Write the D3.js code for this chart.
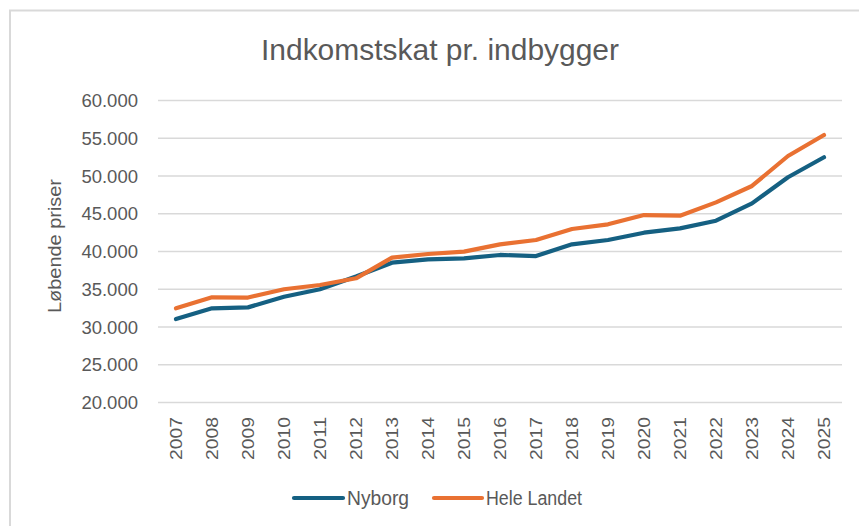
<!DOCTYPE html>
<html>
<head>
<meta charset="utf-8">
<script src="https://cdn.jsdelivr.net/npm/d3@7"></script>
<style>
  html, body { margin: 0; padding: 0; background: #fff; }
  text { font-family: "Liberation Sans", Arial, sans-serif; fill: #595959; }
</style>
</head>
<body>
<svg id="chart" width="859" height="526"></svg>
<script>
const years = ["2007","2008","2009","2010","2011","2012","2013","2014","2015","2016","2017","2018","2019","2020","2021","2022","2023","2024","2025"];
const nyborg = [31050, 32480, 32600, 34000, 35000, 36700, 38520, 38960, 39100, 39540, 39400, 40950, 41520, 42490, 43070, 44080, 46380, 49830, 52480];
const heleLandet = [32480, 33930, 33900, 35000, 35560, 36450, 39180, 39670, 39980, 40950, 41520, 42980, 43600, 44830, 44740, 46510, 48680, 52650, 55430];
const yTicks = [20000, 25000, 30000, 35000, 40000, 45000, 50000, 55000, 60000];
const seriesNames = ["Nyborg", "Hele Landet"];
const seriesColors = ["#156082", "#E97132"];
const titleText = "Indkomstskat pr. indbygger";
const yAxisTitle = "Løbende priser";

const svg = d3.select("#chart");
const W = 859, H = 526;

svg.append("rect").attr("x", 0).attr("y", 0).attr("width", W).attr("height", H).attr("fill", "#fff");
// chart border (only top/left visible)
svg.append("rect").attr("x", 10).attr("y", 10.5).attr("width", 880).attr("height", 560)
  .attr("fill", "none").attr("stroke", "#D9D9D9").attr("stroke-width", 2);

const x = d3.scalePoint().domain(years).range([158, 842]).padding(0.5);
const y = d3.scaleLinear().domain([20000, 60000]).range([402.5, 100.5]);

const loc = d3.formatLocale({decimal: ",", thousands: ".", grouping: [3], currency: ["", ""]});
const fmt = loc.format(",d");

// gridlines
svg.append("g").selectAll("line").data(yTicks).join("line")
  .attr("x1", 158).attr("x2", 842)
  .attr("y1", d => y(d)).attr("y2", d => y(d))
  .attr("stroke", "#D9D9D9").attr("stroke-width", 1.5);

// y tick labels
svg.append("g").selectAll("text").data(yTicks).join("text")
  .attr("x", 138).attr("y", d => y(d)).attr("dy", "0.36em")
  .attr("text-anchor", "end").attr("font-size", 18.5)
  .text(d => fmt(d));

// x tick labels
svg.append("g").selectAll("text").data(years).join("text")
  .attr("transform", d => `translate(${x(d)},417) rotate(-90)`)
  .attr("dy", "0.36em").attr("text-anchor", "end")
  .attr("font-size", 16.5)
  .attr("textLength", 43).attr("lengthAdjust", "spacingAndGlyphs")
  .text(d => d);

// y axis title
svg.append("text")
  .attr("transform", "translate(61,246) rotate(-90)")
  .attr("text-anchor", "middle").attr("font-size", 17.5)
  .attr("textLength", 134).attr("lengthAdjust", "spacingAndGlyphs")
  .text(yAxisTitle);

// title
svg.append("text")
  .attr("x", 440).attr("y", 60).attr("text-anchor", "middle")
  .attr("font-size", 29)
  .attr("textLength", 358).attr("lengthAdjust", "spacingAndGlyphs")
  .text(titleText);

// lines
const line = d3.line().x((d, i) => x(years[i])).y(d => y(d));
[nyborg, heleLandet].forEach((s, k) => {
  svg.append("path").datum(s)
    .attr("d", line).attr("fill", "none")
    .attr("stroke", seriesColors[k]).attr("stroke-width", 4.2)
    .attr("stroke-linejoin", "round").attr("stroke-linecap", "round");
});

// legend
const legendItems = [
  {name: seriesNames[0], color: seriesColors[0], x1: 294, x2: 343, tx: 347, tl: 62},
  {name: seriesNames[1], color: seriesColors[1], x1: 434, x2: 482, tx: 486, tl: 96}
];
const lg = svg.append("g");
legendItems.forEach(it => {
  lg.append("line").attr("x1", it.x1).attr("x2", it.x2).attr("y1", 498).attr("y2", 498)
    .attr("stroke", it.color).attr("stroke-width", 4.2).attr("stroke-linecap", "round");
  lg.append("text").attr("x", it.tx).attr("y", 498).attr("dy", "0.36em")
    .attr("font-size", 19.5)
    .attr("textLength", it.tl).attr("lengthAdjust", "spacingAndGlyphs")
    .text(it.name);
});
</script>
</body>
</html>
